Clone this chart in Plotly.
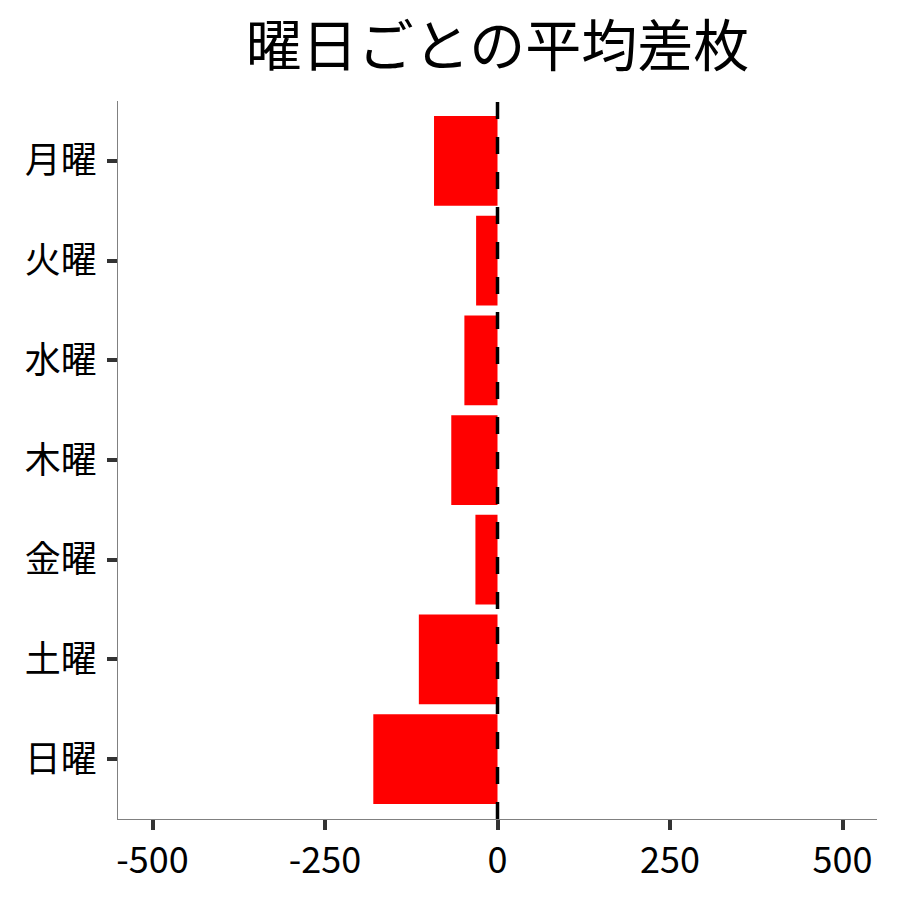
import plotly.graph_objects as go

# 曜日ごとの平均差枚
days = ["月曜", "火曜", "水曜", "木曜", "金曜", "土曜", "日曜"]
avg_diff = [-92, -31, -48, -67, -32, -114, -180]
x_ticks = [-500, -250, 0, 250, 500]

font_jp = "Noto Sans CJK JP"

fig = go.Figure()
fig.add_trace(go.Bar(
    x=avg_diff, y=days, orientation="h",
    marker=dict(color="#ff0000", line=dict(width=0)),
    width=0.9, showlegend=False,
))

# zero line, dashed
fig.add_shape(type="line", x0=0, x1=0, xref="x", y0=0, y1=1, yref="paper",
              line=dict(color="black", width=3.5, dash="17px,18px"))

# page body has an 8px margin, so the figure is a bit smaller than the window
fig.update_layout(
    width=892, height=892,
    margin=dict(l=110, r=23, t=93, b=81),
    paper_bgcolor="white", plot_bgcolor="white",
    font=dict(family=font_jp, color="black"),
    title=dict(text="曜日ごとの平均差枚", font=dict(size=56, family=font_jp),
               x=0.5, xref="paper", xanchor="center",
               y=1 - 38 / 892, yref="container", yanchor="middle"),
)
fig.update_xaxes(
    range=[-550, 550], tickvals=x_ticks, ticktext=[str(v) for v in x_ticks],
    showgrid=False, zeroline=False,
    showline=True, linecolor="#808080", linewidth=1.3,
    ticks="outside", ticklen=10, tickwidth=3.5, tickcolor="#333333",
    tickfont=dict(size=36, family=font_jp, color="black"),
)
fig.update_yaxes(
    type="category", categoryorder="array", categoryarray=days,
    range=[6.6, -0.6],
    showgrid=False, zeroline=False,
    showline=True, linecolor="#808080", linewidth=1.3,
    ticks="outside", ticklen=10, tickwidth=3.5, tickcolor="#333333",
    ticklabelstandoff=3,
    tickfont=dict(size=36, family=font_jp, color="black"),
)

fig.write_html("out.html")
